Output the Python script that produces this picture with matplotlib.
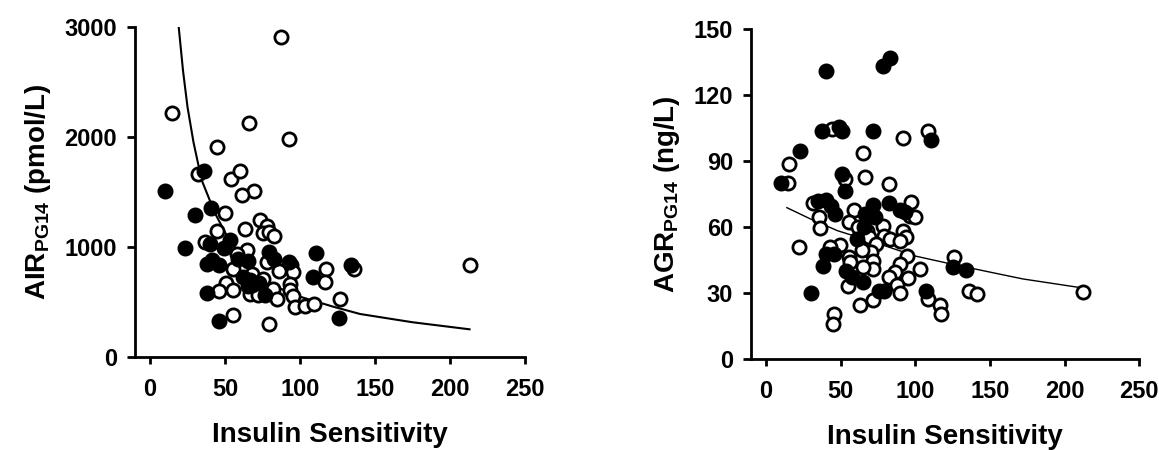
import matplotlib
matplotlib.use("Agg")
import matplotlib.pyplot as plt

plt.rcParams["font.family"] = ["Liberation Sans", "DejaVu Sans"]
plt.rcParams["font.weight"] = "bold"
plt.rcParams["mathtext.fontset"] = "custom"
plt.rcParams["mathtext.rm"] = "Liberation Sans:bold"
plt.rcParams["mathtext.bf"] = "Liberation Sans:bold"
plt.rcParams["mathtext.it"] = "Liberation Sans:bold"

# Left panel: AIR vs insulin sensitivity
air_open_x = [87.2, 14.8, 65.7, 92.6, 44.7, 32.2, 54.0, 59.7, 69.3, 61.5, 49.7, 73.0,
              77.8, 63.3, 44.9, 75.1, 79.6, 82.9, 36.8, 64.5, 57.8, 77.7, 86.3, 94.3,
              95.5, 55.2, 117.6, 136.1, 213.2, 116.8, 93.0, 93.3, 50.6, 45.7, 55.2, 82.3,
              66.8, 72.0, 84.6, 95.1, 96.5, 103.6, 109.2, 126.5, 55.6, 79.5, 68.1, 75.2]
air_open_y = [2909, 2218, 2127, 1985, 1909, 1667, 1615, 1691, 1510, 1472, 1305, 1250,
              1188, 1167, 1150, 1128, 1135, 1099, 1043, 978, 939, 866, 787, 833,
              775, 805, 800, 800, 833, 680, 668, 611, 672, 605, 609, 623,
              570, 563, 532, 555, 453, 467, 481, 525, 381, 302, 758, 712]
air_filled_x = [10.0, 23.2, 30.2, 35.8, 40.8, 40.3, 37.7, 41.2, 46.2, 38.3, 45.9, 49.3,
                53.3, 58.7, 65.6, 62.1, 66.8, 68.1, 72.9, 76.9, 79.1, 82.6, 92.4, 110.6,
                108.5, 125.8, 134.3, 65.5]
air_filled_y = [1506, 996, 1290, 1688, 1355, 1032, 850, 881, 835, 584, 330, 991,
                1062, 891, 873, 729, 699, 652, 674, 563, 956, 896, 866, 948,
                727, 359, 840, 647]
air_curve_x = [19.1, 22, 25, 29, 34.4, 43.3, 51.6, 66.7, 82.2, 100, 122.2, 140, 175, 213]
air_curve_y = [3000, 2600, 2270, 1950, 1609, 1307, 1094, 808, 650, 550, 459, 393, 318, 254]

# Right panel: AGR vs insulin sensitivity
agr_open_x = [14.9, 15.1, 21.8, 44.1, 65.2, 66.5, 82.6, 92.0, 108.6, 52.8, 31.7, 35.4,
              36.2, 59.0, 55.3, 61.5, 67.7, 78.1, 97.0, 96.2, 99.5, 92.0, 93.7, 79.0,
              82.8, 89.5, 68.9, 74.0, 70.2, 64.0, 49.9, 42.9, 55.3, 56.0, 71.9, 71.4,
              65.2, 94.2, 89.5, 86.3, 102.9, 82.1, 95.0, 54.8, 88.0, 90.0, 71.4, 62.7,
              108.6, 116.8, 117.3, 45.4, 44.9, 126.1, 135.9, 141.4, 212.1]
agr_open_y = [79.9, 88.6, 50.8, 104.5, 93.6, 82.6, 79.5, 100.3, 103.8, 81.8, 70.8, 64.7,
              59.5, 67.7, 62.1, 59.8, 58.3, 60.6, 71.5, 65.2, 64.4, 58.3, 55.3, 56.1,
              54.5, 53.8, 55.3, 52.3, 48.5, 49.5, 52.0, 50.8, 46.2, 44.2, 44.7, 40.9,
              41.7, 47.0, 43.2, 39.4, 40.9, 37.1, 36.8, 33.3, 33.8, 29.8, 27.0, 24.7,
              27.3, 24.7, 20.5, 20.5, 15.9, 46.2, 31.1, 29.5, 30.6]
agr_filled_x = [9.9, 22.6, 40.4, 37.5, 49.1, 50.8, 71.9, 78.1, 83.3, 110.4, 50.8, 52.8,
                35.0, 40.4, 43.7, 45.9, 30.0, 38.4, 39.9, 45.4, 53.3, 57.8, 64.7, 66.5,
                71.9, 72.7, 82.1, 90.0, 93.0, 60.8, 65.7, 75.6, 78.9, 107.4, 125.2, 133.9]
agr_filled_y = [79.9, 94.4, 131.1, 103.8, 105.3, 103.8, 103.8, 133.0, 136.8, 99.5, 84.1, 76.2,
                72.0, 72.3, 69.7, 65.9, 29.8, 42.4, 47.7, 47.7, 40.2, 37.1, 34.8, 65.9,
                70.2, 64.4, 70.9, 67.7, 66.7, 54.5, 59.8, 31.1, 30.8, 31.1, 41.7, 40.5]
agr_curve_x = [14, 30, 48, 73, 100, 122, 150, 172, 212]
agr_curve_y = [68.8, 63.6, 58.3, 53.0, 46.8, 43.5, 39.5, 36.4, 32.3]

x_ticks = [0, 50, 100, 150, 200, 250]


def draw_panel(ax, open_x, open_y, filled_x, filled_y, curve_x, curve_y,
               curve_width, y_ticks, y_label):
    ax.plot(curve_x, curve_y, color="black", lw=curve_width, zorder=1)
    ax.plot(open_x, open_y, "o", ms=9.5, mfc="white", mec="black", mew=2, zorder=2)
    ax.plot(filled_x, filled_y, "o", ms=9.5, mfc="black", mec="black", mew=2, zorder=3)

    ax.set_xlim(-10, 250)
    ax.set_ylim(y_ticks[0], y_ticks[-1])
    ax.set_xticks(x_ticks)
    ax.set_yticks(y_ticks)
    ax.spines["top"].set_visible(False)
    ax.spines["right"].set_visible(False)
    for side in ("left", "bottom"):
        ax.spines[side].set_linewidth(2)
    ax.tick_params(axis="both", width=2, labelsize=17)
    ax.tick_params(axis="x", length=5, pad=10)
    ax.tick_params(axis="y", length=6, pad=7)
    ax.set_xlabel("Insulin Sensitivity", fontsize=20, fontweight="bold", labelpad=15)
    ax.set_ylabel(y_label, fontsize=20, fontweight="bold", labelpad=8)


fig = plt.figure(figsize=(11.59, 4.5), dpi=100)
ax_left = fig.add_axes([0.1165, 0.206, 0.3365, 0.7347])
ax_right = fig.add_axes([0.648, 0.2022, 0.335, 0.7333])

draw_panel(ax_left, air_open_x, air_open_y, air_filled_x, air_filled_y,
           air_curve_x, air_curve_y, 1.5, [0, 1000, 2000, 3000],
           r"AIR$_{\mathbf{PG14}}$ (pmol/L)")
draw_panel(ax_right, agr_open_x, agr_open_y, agr_filled_x, agr_filled_y,
           agr_curve_x, agr_curve_y, 1.0, [0, 30, 60, 90, 120, 150],
           r"AGR$_{\mathbf{PG14}}$ (ng/L)")

fig.savefig("out.png", dpi=100)
